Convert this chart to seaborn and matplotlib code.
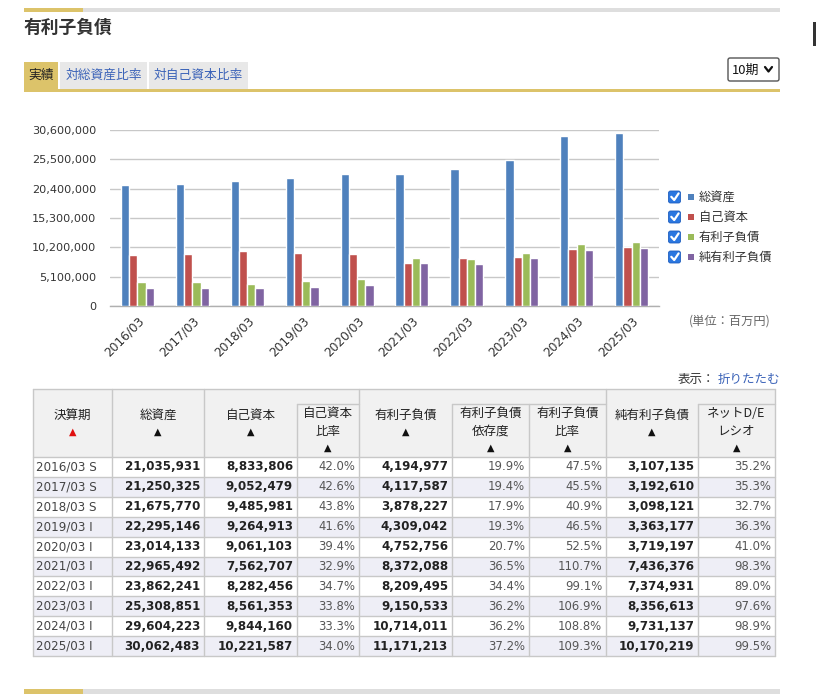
import numpy as np
import pandas as pd
import matplotlib
matplotlib.use("Agg")
import matplotlib.pyplot as plt
import seaborn as sns
from matplotlib.patches import Rectangle, FancyBboxPatch
from matplotlib.lines import Line2D
from matplotlib.ticker import FuncFormatter, FixedLocator

# ---------------- data ----------------
periods = ["2016/03", "2017/03", "2018/03", "2019/03", "2020/03",
           "2021/03", "2022/03", "2023/03", "2024/03", "2025/03"]
period_marks = ["S", "S", "S", "I", "I", "I", "I", "I", "I", "I"]
total_assets = [21035931, 21250325, 21675770, 22295146, 23014133,
                22965492, 23862241, 25308851, 29604223, 30062483]
equity = [8833806, 9052479, 9485981, 9264913, 9061103,
          7562707, 8282456, 8561353, 9844160, 10221587]
equity_ratio = [42.0, 42.6, 43.8, 41.6, 39.4, 32.9, 34.7, 33.8, 33.3, 34.0]
ibd = [4194977, 4117587, 3878227, 4309042, 4752756,
       8372088, 8209495, 9150533, 10714011, 11171213]
ibd_dependency = [19.9, 19.4, 17.9, 19.3, 20.7, 36.5, 34.4, 36.2, 36.2, 37.2]
ibd_ratio = [47.5, 45.5, 40.9, 46.5, 52.5, 110.7, 99.1, 106.9, 108.8, 109.3]
net_ibd = [3107135, 3192610, 3098121, 3363177, 3719197,
           7436376, 7374931, 8356613, 9731137, 10170219]
net_de = [35.2, 35.3, 32.7, 36.3, 41.0, 98.3, 89.0, 97.6, 98.9, 99.5]

series_names = ["総資産", "自己資本", "有利子負債", "純有利子負債"]
series_colors = ["#4f81bd", "#c0504d", "#9bbb59", "#8064a2"]
y_ticks = [0, 5100000, 10200000, 15300000, 20400000, 25500000, 30600000]

title = "有利子負債"
tabs = ["実績", "対総資産比率", "対自己資本比率"]
unit_label = "(単位：百万円)"
period_select = "10期"

# ---------------- style ----------------
sns.set_theme(style="white")
JP = ["Noto Sans CJK JP", "DejaVu Sans"]
LAT = ["DejaVu Sans", "Noto Sans CJK JP"]
plt.rcParams["font.family"] = JP

W, H = 816, 694
fig = plt.figure(figsize=(W / 100, H / 100), dpi=100)
fig.patch.set_facecolor("white")

bg = fig.add_axes([0, 0, 1, 1])
bg.set_xlim(0, W)
bg.set_ylim(H, 0)
bg.axis("off")


def rect(x0, y0, x1, y1, fc, ec="none", lw=0, z=1):
    bg.add_patch(Rectangle((x0, y0), x1 - x0, y1 - y0, facecolor=fc,
                           edgecolor=ec, linewidth=lw, zorder=z))


def hline(x0, x1, y, c="#c8c8c8", lw=1.0, z=3):
    bg.add_line(Line2D([x0, x1], [y, y], color=c, lw=lw, zorder=z))


def vline(x, y0, y1, c="#c8c8c8", lw=1.0, z=3):
    bg.add_line(Line2D([x, x], [y0, y1], color=c, lw=lw, zorder=z))


GOLD = "#dcc36a"
# top bar
rect(24, 8, 780, 12, "#dedede")
rect(24, 8, 83, 12, GOLD, z=2)
# bottom bar
rect(24, 689, 780, 694, "#dedede")
rect(24, 689, 83, 694, GOLD, z=2)
# right edge marker
rect(813, 22, 816, 46, "#333333")

# title
bg.text(24, 28, title, fontsize=12.8, fontweight="bold", color="#333333",
        va="center", ha="left", family=JP)

# tabs
tab_x = [(24, 58), (60, 147), (149, 248)]
for i, (name, (a, b)) in enumerate(zip(tabs, tab_x)):
    rect(a, 62, b, 90, GOLD if i == 0 else "#e8e8e8")
    bg.text((a + b) / 2, 75, name, fontsize=9.2,
            color="#222222" if i == 0 else "#3a62b8",
            ha="center", va="center", family=JP)
rect(24, 89, 780, 92, GOLD, z=2)

# dropdown
bg.add_patch(FancyBboxPatch((728, 58), 51, 23,
                            boxstyle="round,pad=0,rounding_size=2",
                            facecolor="white", edgecolor="#555555", lw=1.0, zorder=3))
bg.text(732, 70, period_select, fontsize=9.3, color="#111111",
        ha="left", va="center", family=JP, zorder=4)
bg.add_line(Line2D([765, 768.5, 772], [67, 71.5, 67], color="#111111",
                   lw=1.6, zorder=4, solid_capstyle="round"))

# ---------------- chart ----------------
ax_l, ax_r, ax_t, ax_b = 110, 659, 130, 306
ax = fig.add_axes([ax_l / W, 1 - ax_b / H, (ax_r - ax_l) / W, (ax_b - ax_t) / H])
ax.set_facecolor("none")

df = pd.DataFrame({
    "period": np.repeat(periods, 4),
    "series": series_names * len(periods),
    "value": np.ravel(np.column_stack([total_assets, equity, ibd, net_ibd])),
})
sns.barplot(data=df, x="period", y="value", hue="series", order=periods,
            hue_order=series_names, palette=series_colors, width=0.6,
            saturation=1, legend=False, ax=ax, zorder=3)

ax.set_ylim(0, y_ticks[-1])
ax.set_xlim(-0.5, len(periods) - 0.5)
ax.yaxis.set_major_locator(FixedLocator(y_ticks))
ax.yaxis.set_major_formatter(FuncFormatter(lambda v, p: f"{int(v):,}"))
ax.grid(axis="y", color="#c8c8c8", lw=1.0, zorder=0)
ax.set_axisbelow(True)
for s in ["top", "right", "left"]:
    ax.spines[s].set_visible(False)
ax.spines["bottom"].set_color("#b0b0b0")
ax.spines["bottom"].set_linewidth(1.0)
ax.set_xlabel("")
ax.set_ylabel("")
ax.tick_params(axis="y", length=0, pad=10, labelsize=8.1, labelcolor="#333333")
ax.set_xticks(range(len(periods)))
ax.set_xticklabels(periods, rotation=45, ha="right", rotation_mode="anchor",
                   fontsize=8.7, color="#333333", family=LAT)
ax.tick_params(axis="x", which="major", length=0, pad=6)
ax.set_xticks(np.arange(-0.5, len(periods), 1.0), minor=True)
ax.tick_params(axis="x", which="minor", length=6, color="#b0b0b0", width=1.0)
for lab in ax.get_yticklabels():
    lab.set_family(LAT)

# legend (checkbox style)
for i, (name, col) in enumerate(zip(series_names, series_colors)):
    yc = 197 + i * 20
    bg.add_patch(FancyBboxPatch((668.5, yc - 6), 12, 12,
                                boxstyle="round,pad=0,rounding_size=2",
                                facecolor="#2b77e0", edgecolor="#1f5fbf",
                                lw=0.6, zorder=3))
    bg.add_line(Line2D([671.3, 674.2, 678.6], [yc - 0.2, yc + 3, yc - 3.6],
                       color="white", lw=1.6, zorder=4,
                       solid_capstyle="round", solid_joinstyle="round"))
    rect(687.5, yc - 3, 693.5, yc + 3, col, z=3)
    bg.text(699, yc, name, fontsize=8.8, color="#333333", ha="left",
            va="center", family=JP)

bg.text(771, 321, unit_label, fontsize=8.8, color="#666666", ha="right",
        va="center", family=JP)

# display toggle
bg.text(780, 379, "折りたたむ", fontsize=9.0, color="#3a62b8",
        ha="right", va="center", family=JP)
bg.text(715, 379, "表示：", fontsize=9.0, color="#333333", ha="right",
        va="center", family=JP)

# ---------------- table ----------------
cols = [33, 112, 204, 297, 359, 452, 529, 606, 698, 775]
top, sub, hbot = 389, 404, 457
row_h = 19.9
n = len(periods)
tbot = hbot + row_h * n

rect(cols[0], top, cols[-1], hbot, "#f1f1f1")
for i in range(n):
    y0 = hbot + i * row_h
    rect(cols[0], y0, cols[-1], y0 + row_h, "#ffffff" if i % 2 == 0 else "#eeeef6")

hline(cols[0], cols[-1], top)
hline(cols[0], cols[-1], hbot)
for i in range(1, n + 1):
    hline(cols[0], cols[-1], hbot + i * row_h)
for a, b in [(cols[3], cols[4]), (cols[5], cols[7]), (cols[8], cols[9])]:
    hline(a, b, sub)
for x in [cols[0], cols[1], cols[2], cols[4], cols[7], cols[9]]:
    vline(x, top, tbot)
for x in [cols[3], cols[5], cols[6], cols[8]]:
    vline(x, sub, tbot)

headers = [
    (["決算期"], True),
    (["総資産"], False),
    (["自己資本"], False),
    (["自己資本", "比率"], False),
    (["有利子負債"], False),
    (["有利子負債", "依存度"], False),
    (["有利子負債", "比率"], False),
    (["純有利子負債"], False),
    (["ネットD/E", "レシオ"], False),
]
for j, (lines, red) in enumerate(headers):
    xc = (cols[j] + cols[j + 1]) / 2
    if len(lines) == 1:
        ys = [415]
        ya = 432
    else:
        ys = [413, 431]
        ya = 448
    for t, yy in zip(lines, ys):
        bg.text(xc, yy, t, fontsize=9.0, color="#222222", ha="center",
                va="center", family=JP, zorder=5)
    bg.text(xc, ya, "▲", fontsize=7.0, color="#e01010" if red else "#111111",
            ha="center", va="center", family=LAT, zorder=5)

for i in range(n):
    yc = hbot + (i + 0.5) * row_h
    bg.text(cols[0] + 3, yc, f"{periods[i]} {period_marks[i]}", fontsize=8.6,
            color="#444444", ha="left", va="center", family=LAT, zorder=5)
    vals = [
        (f"{total_assets[i]:,}", True),
        (f"{equity[i]:,}", True),
        (f"{equity_ratio[i]:.1f}%", False),
        (f"{ibd[i]:,}", True),
        (f"{ibd_dependency[i]:.1f}%", False),
        (f"{ibd_ratio[i]:.1f}%", False),
        (f"{net_ibd[i]:,}", True),
        (f"{net_de[i]:.1f}%", False),
    ]
    for j, (txt, bold) in enumerate(vals):
        bg.text(cols[j + 2] - 4, yc, txt, fontsize=8.6 if bold else 8.4,
                fontweight="bold" if bold else "normal",
                color="#222222" if bold else "#555555",
                ha="right", va="center", family=LAT, zorder=5)

fig.savefig("out.png", dpi=100, facecolor="white")
